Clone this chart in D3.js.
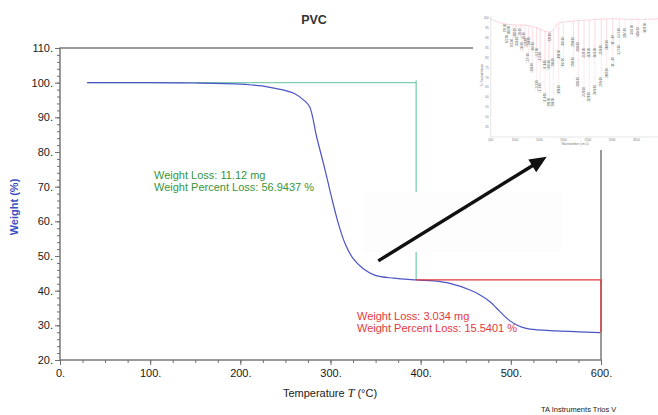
<!DOCTYPE html>
<html><head><meta charset="utf-8">
<script src="https://cdn.jsdelivr.net/npm/d3@7"></script>
<style>
html,body{margin:0;padding:0;background:#fff;}
svg{display:block;font-family:"Liberation Sans",Arial,sans-serif;}
</style></head>
<body>
<svg id="c" width="658" height="415"></svg>
<script>
// ---- main TGA curve data ----
const temps   = [30, 100, 150, 200, 214, 230, 247, 260, 272, 277, 284.6, 294, 301, 308.7, 316, 325, 336, 349, 369.6, 395.6, 415, 432.5, 454.7, 465, 476.9, 484, 491.6, 498, 506.5, 513, 521.3, 551, 599];
const weights = [100, 100, 99.9, 99.6, 99.3, 98.8, 97.9, 96.9, 94.6, 93, 84.4, 74.8, 67.1, 59.4, 53.7, 49.3, 46.4, 44.5, 43.6, 43.1, 42.8, 42.1, 40.2, 38.9, 36.8, 35.0, 33.0, 31.5, 30.1, 29.4, 28.9, 28.4, 27.9];
const xTicks = [0, 100, 200, 300, 400, 500, 600];
const yTicks = [20, 30, 40, 50, 60, 70, 80, 90, 100, 110];

// step annotations
const greenStep = {t0: 30, t1: 395, wTop: 100, wBottom: 43.1};
const redStep   = {t0: 395, t1: 600, wTop: 43.1, wBottom: 27.9};
const greenText = ["Weight Loss: 11.12 mg", "Weight Percent Loss: 56.9437 %"];
const redText   = ["Weight Loss: 3.034 mg", "Weight Percent Loss: 15.5401 %"];

// arrow (in chart units)
const arrowFrom = [353, 48.6];
const arrowTo   = [539.8, 78.6];

// ---- inset spectrum data ----
const specWn = [500, 800, 1000, 1200, 1400, 1600, 1720, 1800, 1900, 2100, 2500, 3000, 3500, 4000];
const specT  = [99.5, 97, 96.5, 96.4, 95.5, 93.5, 92.8, 94.5, 97.6, 98.2, 99, 99.6, 99.3, 99.6];
const peakWn = [794, 883, 842, 945, 1000, 1035, 1103, 1138, 1185, 1220, 1288, 1274, 1364, 1356, 1447, 1447, 1515, 1515, 1618, 1618, 1694, 1706, 1720, 1788, 1788, 1899, 1899, 1994, 1994, 2200, 2200, 2303, 2303, 2420, 2420, 2529, 2529, 2646, 2646, 2776, 2776, 2887, 2887, 3011, 3011, 3147, 3147, 3264, 3402, 3538, 3676];
const peakT  = [95.0, 94.0, 89.4, 87.4, 92.4, 87.9, 92.4, 85.4, 90.4, 87.4, 87.9, 79.8, 85.4, 74.8, 82.4, 66.2, 80.3, 64.7, 76.3, 59.7, 76.3, 57.2, 89.9, 77.3, 57.2, 81.4, 63.7, 87.9, 77.3, 87.9, 77.8, 85.4, 67.7, 82.4, 62.7, 82.4, 60.2, 82.4, 63.7, 83.9, 67.7, 86.4, 72.3, 88.9, 77.8, 92.4, 83.9, 92.4, 94.0, 92.9, 95.0];
const insetXTicks = [500, 1000, 1500, 2000, 2500, 3000, 3500];
const insetYTicks = [45, 50, 55, 60, 65, 70, 75, 80, 85, 90, 95, 100];

const svg = d3.select("#c");
const x = d3.scaleLinear().domain([0, 600]).range([60, 601]);
const y = d3.scaleLinear().domain([20, 110]).range([360, 48]);

const frameCol = "#6f6f6f";

// title
svg.append("text").attr("x", 314).attr("y", 24).attr("text-anchor", "middle")
  .attr("font-size", 12.5).attr("font-weight", "bold").attr("fill", "#333").text("PVC");

// frame
svg.append("rect").attr("x", x(0)).attr("y", y(110)).attr("width", x(600) - x(0)).attr("height", y(20) - y(110))
  .attr("fill", "none").attr("stroke", frameCol).attr("stroke-width", 1.4);

// axes
const gx = svg.append("g").attr("transform", `translate(0,${y(20)})`);
gx.call(d3.axisBottom(x).tickValues(d3.range(0, 601, 25)).tickSize(3).tickFormat(""));
gx.call(g => g.select(".domain").remove());
const gx2 = svg.append("g").attr("transform", `translate(0,${y(20)})`);
gx2.call(d3.axisBottom(x).tickValues(xTicks).tickSize(5).tickPadding(4).tickFormat(d => d + "."));
gx2.select(".domain").remove();

const gy = svg.append("g").attr("transform", `translate(${x(0)},0)`);
gy.call(d3.axisLeft(y).tickValues(d3.range(20, 111, 2)).tickSize(3).tickFormat(""));
gy.select(".domain").remove();
const gy2 = svg.append("g").attr("transform", `translate(${x(0)},0)`);
gy2.call(d3.axisLeft(y).tickValues(yTicks).tickSize(5).tickPadding(2).tickFormat(d => d + "."));
gy2.select(".domain").remove();

svg.selectAll(".tick line").attr("stroke", frameCol);
svg.selectAll(".tick text").attr("font-size", 11).attr("fill", "#1a1a1a")
  .attr("font-family", "Liberation Sans, Arial, sans-serif");

// axis titles
const xt = svg.append("text").attr("x", 330).attr("y", 397).attr("text-anchor", "middle")
  .attr("font-size", 11).attr("fill", "#222");
xt.append("tspan").text("Temperature  ");
xt.append("tspan").attr("font-style", "italic").attr("font-family", "Liberation Serif, serif").attr("font-size", 12).text("T");
xt.append("tspan").text("  (°C)");

svg.append("text").attr("transform", "translate(18,207) rotate(-90)").attr("text-anchor", "middle")
  .attr("font-size", 11).attr("font-weight", "bold").attr("fill", "#3b4fc2").text("Weight  (%)");

// green step
const green = "#7dcfae";
svg.append("line").attr("x1", x(greenStep.t0)).attr("x2", x(greenStep.t1))
  .attr("y1", y(greenStep.wTop)).attr("y2", y(greenStep.wTop)).attr("stroke", green).attr("stroke-width", 1.3);
svg.append("line").attr("x1", x(greenStep.t1)).attr("x2", x(greenStep.t1))
  .attr("y1", y(greenStep.wTop + 0.6)).attr("y2", y(greenStep.wBottom)).attr("stroke", green).attr("stroke-width", 1.3);

// curve
const line = d3.line().x((d, i) => x(temps[i])).y((d, i) => y(weights[i])).curve(d3.curveCatmullRom.alpha(0.5));
svg.append("path").attr("d", line(temps)).attr("fill", "none").attr("stroke", "#4b55c6").attr("stroke-width", 1.2);

// red step
const red = "#e0393b";
svg.append("line").attr("x1", x(redStep.t0)).attr("x2", x(redStep.t1))
  .attr("y1", y(redStep.wTop)).attr("y2", y(redStep.wTop)).attr("stroke", red).attr("stroke-width", 1.3);
svg.append("line").attr("x1", x(redStep.t1)).attr("x2", x(redStep.t1))
  .attr("y1", y(redStep.wTop)).attr("y2", y(redStep.wBottom)).attr("stroke", red).attr("stroke-width", 1.3);

// annotation texts
greenText.forEach((t, i) => svg.append("text").attr("x", 154).attr("y", 178.5 + i * 12)
  .attr("font-size", 11).attr("fill", "#36963a").text(t));
redText.forEach((t, i) => svg.append("text").attr("x", 357).attr("y", 319.5 + i * 12)
  .attr("font-size", 11).attr("fill", "#e5383a").text(t));

// pasted arrow image background (white patch)
svg.append("rect").attr("x", x(336)).attr("y", y(68.5)).attr("width", x(556.7) - x(336)).attr("height", y(51.2) - y(68.5))
  .attr("fill", "#fdfdfd");

// arrow
const ax0 = x(arrowFrom[0]), ay0 = y(arrowFrom[1]), ax1 = x(arrowTo[0]), ay1 = y(arrowTo[1]);
const ang = Math.atan2(ay1 - ay0, ax1 - ax0);
const hl = 17, hw = 7.5;
const bx = ax1 - hl * Math.cos(ang), by = ay1 - hl * Math.sin(ang);
svg.append("line").attr("x1", ax0).attr("y1", ay0).attr("x2", bx + 2 * Math.cos(ang)).attr("y2", by + 2 * Math.sin(ang))
  .attr("stroke", "#111").attr("stroke-width", 3.4);
svg.append("path").attr("d", `M${ax1},${ay1}L${bx - hw * Math.sin(ang)},${by + hw * Math.cos(ang)}L${bx + hw * Math.sin(ang)},${by - hw * Math.cos(ang)}Z`)
  .attr("fill", "#111");

// inset
const inset = svg.append("g");
inset.append("rect").attr("x", 473).attr("y", 0).attr("width", 185).attr("height", 150).attr("fill", "#fff");
const ix = d3.scaleLinear().domain([500, 4000]).range([490.7, 660.8]);
const iy = d3.scaleLinear().domain([40, 100]).range([137, 18]);
inset.append("line").attr("x1", ix(500)).attr("x2", 658).attr("y1", iy(40)).attr("y2", iy(40)).attr("stroke", "#c8c8c8").attr("stroke-width", 0.5);
inset.append("line").attr("x1", ix(500)).attr("x2", ix(500)).attr("y1", iy(40)).attr("y2", iy(101)).attr("stroke", "#c8c8c8").attr("stroke-width", 0.5);
insetXTicks.forEach(v => {
  inset.append("text").attr("x", ix(v)).attr("y", 141).attr("text-anchor", "middle").attr("font-size", 3).attr("fill", "#777").text(v);
});
insetYTicks.forEach(v => {
  inset.append("text").attr("x", ix(500) - 2).attr("y", iy(v) + 1).attr("text-anchor", "end").attr("font-size", 3).attr("fill", "#777").text(v);
});
inset.append("text").attr("x", 575).attr("y", 144.5).attr("text-anchor", "middle").attr("font-size", 3).attr("fill", "#777").text("Wavenumber (cm-1)");
inset.append("text").attr("transform", "translate(483,75) rotate(-90)").attr("text-anchor", "middle").attr("font-size", 3).attr("fill", "#777").text("% Transmittance");

const sline = d3.line().x((d, i) => ix(specWn[i])).y((d, i) => iy(specT[i])).curve(d3.curveMonotoneX);
const specAt = v => {
  for (let i = 1; i < specWn.length; i++) if (v <= specWn[i]) {
    const f = (v - specWn[i - 1]) / (specWn[i] - specWn[i - 1]);
    return specT[i - 1] + f * (specT[i] - specT[i - 1]);
  }
  return specT[specT.length - 1];
};
peakWn.forEach((w, i) => {
  inset.append("line").attr("x1", ix(w)).attr("x2", ix(w)).attr("y1", iy(specAt(w))).attr("y2", iy(peakT[i]) - 4)
    .attr("stroke", "#f8d3d8").attr("stroke-width", 0.45);
});
inset.append("path").attr("d", sline(specWn)).attr("fill", "none").attr("stroke", "#f29aa4").attr("stroke-width", 0.6).attr("stroke-dasharray", "1.5,0.8");
peakWn.forEach((w, i) => {
  inset.append("text").attr("transform", `translate(${ix(w) + 0.9},${iy(peakT[i])}) rotate(-90)`)
    .attr("text-anchor", "middle").attr("font-size", 2.6).attr("fill", "#444").text(w.toFixed(2));
});

// footer
svg.append("text").attr("x", 541).attr("y", 412).attr("font-size", 7.5).attr("fill", "#222").text("TA Instruments Trios V");
</script>
</body></html>
